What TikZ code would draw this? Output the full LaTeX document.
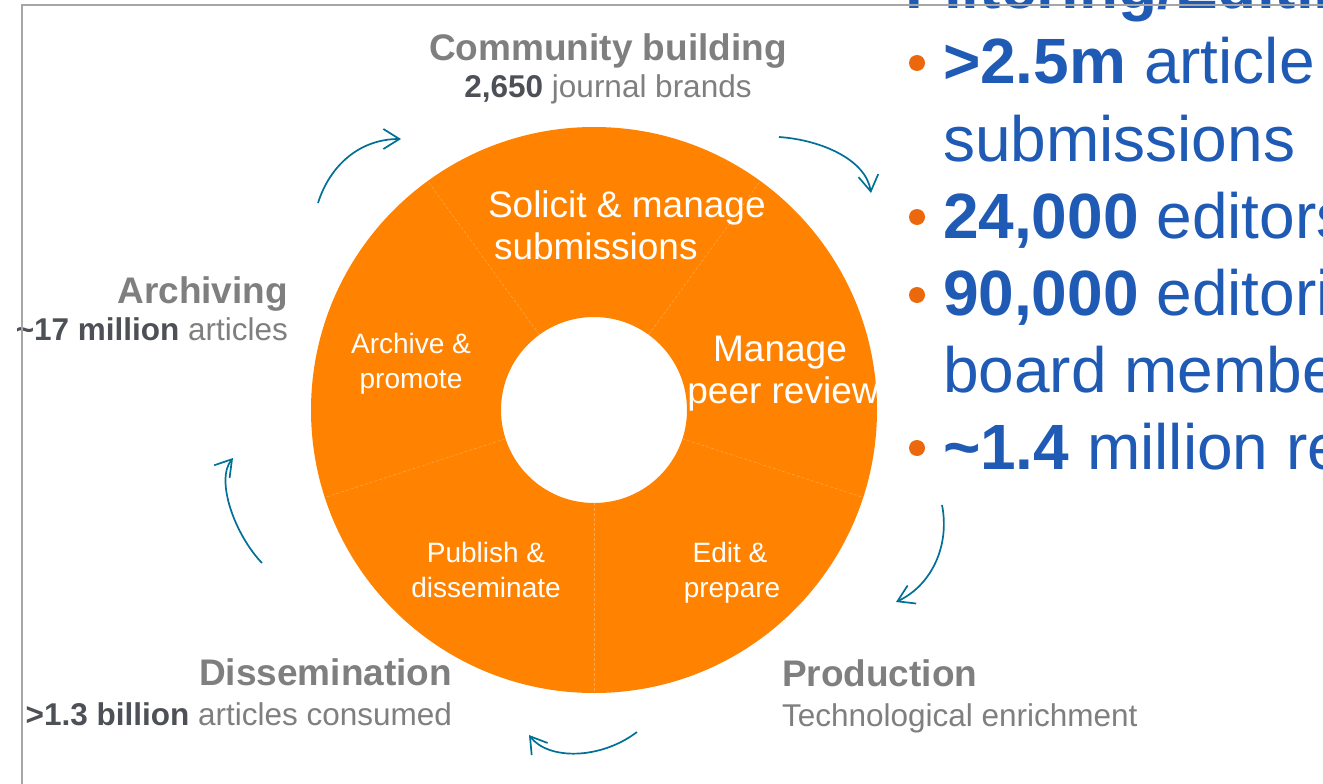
\documentclass[tikz,border=0pt]{standalone}
\usepackage{fontspec}
\setmainfont{Liberation Sans}
\usetikzlibrary{arrows.meta}
\definecolor{ringorange}{RGB}{255,131,0}
\definecolor{labelgray}{RGB}{127,127,127}
\definecolor{numgray}{RGB}{77,80,86}
\definecolor{statblue}{RGB}{31,90,180}
\definecolor{dotorange}{RGB}{236,104,12}
\definecolor{arrowteal}{RGB}{0,112,150}
\definecolor{framegray}{RGB}{166,166,166}
\begin{document}
\begin{tikzpicture}[x=1pt,y=-1pt,
  every node/.style={inner sep=0pt, outer sep=0pt},
  inbig/.style={text=white, font=\fontsize{37}{42}\selectfont},
  insmall/.style={text=white, font=\fontsize{28}{34}\selectfont},
  headlbl/.style={text=labelgray, font=\fontsize{37}{44}\selectfont\bfseries},
  sublbl/.style={text=labelgray, font=\fontsize{31.5}{38}\selectfont},
  stat/.style={text=statblue, font=\fontsize{64}{77}\selectfont, anchor=base west},
  bullet/.style={circle, fill=dotorange, minimum size=16pt},
  cyc/.style={draw=arrowteal, line width=1.7pt, -{Straight Barb[length=16pt,width=20pt]}},
  divider/.style={draw=white, opacity=0.3, line width=0.5pt, dash pattern=on 3pt off 2pt}
]
\useasboundingbox (0,0) rectangle (1323,784);
\clip (0,0) rectangle (1323,784);
\fill[white] (0,0) rectangle (1323,784);

% ring
\coordinate (c) at (594,410);
\fill[ringorange, even odd rule] (c) circle (283) (c) circle (93);
\foreach \a in {-54,-126,162,90,18}
  \draw[divider] (c) ++(\a:93) -- ++(\a:190);

% inner labels
\node[inbig, anchor=base west] (sol1) at (488,217) {Solicit \& manage};
\node[inbig, anchor=base west] (sol2) at (494,259) {submissions};
\begin{scope}
  \clip (c) circle (283);
  \node[inbig, anchor=base] (man1) at (780,361) {Manage};
  \node[inbig, anchor=base] (man2) at (783,403) {peer review};
\end{scope}
\node[insmall, anchor=base] (arc1) at (411,353) {Archive \&};
\node[insmall, anchor=base] (arc2) at (411,388) {promote};
\node[insmall, anchor=base] (pub1) at (486,562) {Publish \&};
\node[insmall, anchor=base] (pub2) at (486,597) {disseminate};
\node[insmall, anchor=base] (edi1) at (730,562) {Edit \&};
\node[insmall, anchor=base] (edi2) at (732,597) {prepare};

% outer labels
\node[headlbl, anchor=base] (comm) at (608,60) {Community building};
\node[sublbl, anchor=base] (commsub) at (608,98) {{\color{numgray}\bfseries 2,650} journal brands};
\node[headlbl, anchor=base east] (archh) at (288,303) {Archiving};
\node[sublbl, anchor=base east] (archsub) at (288,340) {{\color{numgray}\bfseries \textasciitilde17 million} articles};
\node[headlbl, anchor=base east] (dissh) at (452,685) {Dissemination};
\node[sublbl, anchor=base east] (disssub) at (452,725) {{\color{numgray}\bfseries >1.3 billion} articles consumed};
\node[headlbl, anchor=base west] (prodh) at (782,686) {Production};
\node[sublbl, anchor=base west] (prodsub) at (782,726) {Technological enrichment};

% cycle arrows
\coordinate (a1s) at (318,203); \coordinate (a1e) at (401,139);
\coordinate (a2s) at (779,137); \coordinate (a2e) at (871,193);
\coordinate (a3s) at (942,505); \coordinate (a3e) at (896,602);
\coordinate (a4s) at (637,732); \coordinate (a4e) at (529,735);
\coordinate (a5s) at (262,563); \coordinate (a5e) at (233,458);
\draw[cyc] (a1s) .. controls (330,165) and (360,139) .. (a1e);
\draw[cyc] (a2s) .. controls (822,140) and (866,160) .. (a2e);
\draw[cyc] (a3s) .. controls (950,545) and (932,585) .. (a3e);
\draw[cyc] (a4s) .. controls (600,760) and (548,760) .. (a4e);
\draw[cyc] (a5s) .. controls (235,535) and (215,480) .. (a5e);

% right-hand statistics
\node[stat, font=\fontsize{64}{77}\selectfont\bfseries] (title) at (905,9) {Filtering/Editing};
\node[bullet] (b1) at (917,63) {};
\node[stat] (s1) at (943,84) {\textbf{>2.5m} article};
\node[stat] (s1b) at (943,161) {submissions};
\node[bullet] (b2) at (917,217) {};
\node[stat] (s2) at (943,238) {\textbf{24,000} editors};
\node[bullet] (b3) at (917,295) {};
\node[stat] (s3) at (943,315) {\textbf{90,000} editorial};
\node[stat] (s3b) at (943,392) {board members};
\node[bullet] (b4) at (917,448) {};
\node[stat] (s4) at (943,469) {\textbf{\textasciitilde1.4} million reviewers};

% frame
\draw[framegray, line width=2.2pt] (22,900) -- (22,4.7) -- (1400,4.7);
\end{tikzpicture}
\end{document}
